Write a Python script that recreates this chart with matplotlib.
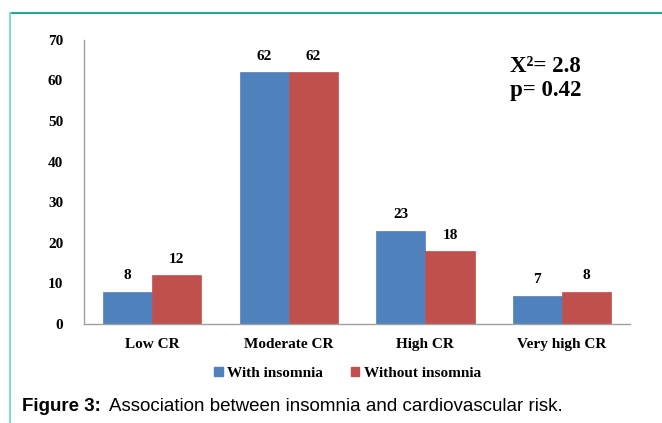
import numpy as np
import matplotlib.pyplot as plt
from matplotlib.lines import Line2D
from matplotlib.patches import Patch

categories = ["Low CR", "Moderate CR", "High CR", "Very high CR"]
with_insomnia = [8, 62, 23, 7]
without_insomnia = [12, 62, 18, 8]
series_names = ["With insomnia", "Without insomnia"]
colors = ["#4f81bd", "#c0504d"]
yticks = [0, 10, 20, 30, 40, 50, 60, 70]

serif = "Liberation Serif"

fig = plt.figure(figsize=(6.62, 4.23), dpi=100)
ax = fig.add_axes([0.127, 0.234, 0.825, 0.672])

x = np.arange(len(categories))
w = 0.36
for vals, off, col in [(with_insomnia, -w / 2, colors[0]), (without_insomnia, w / 2, colors[1])]:
    bars = ax.bar(x + off, vals, width=w, color=col, edgecolor=col, linewidth=0.5)
    for b, v in zip(bars, vals):
        ax.text(b.get_x() + b.get_width() / 2, v + 2.3, str(v), ha="center", va="bottom",
                fontsize=11, fontweight="bold", family=serif)

ax.set_xlim(-0.5, len(categories) - 0.5)
ax.set_ylim(0, 70)
ax.set_yticks(yticks)
ax.set_yticklabels([str(t) for t in yticks], fontsize=11, fontweight="bold", family=serif)
ax.set_xticks(x)
ax.set_xticklabels(categories, fontsize=11, fontweight="bold", family=serif)
ax.tick_params(axis="both", length=0)
ax.tick_params(axis="y", pad=15)
ax.tick_params(axis="x", pad=10)
for s in ["top", "right"]:
    ax.spines[s].set_visible(False)
for s in ["left", "bottom"]:
    ax.spines[s].set_color("#a0a0a0")
    ax.spines[s].set_linewidth(1.0)

ax.text(0.78, 0.907, "X²= 2.8", transform=ax.transAxes, fontsize=16.5, fontweight="bold",
        family=serif, va="center")
ax.text(0.78, 0.82, "p= 0.42", transform=ax.transAxes, fontsize=16.5, fontweight="bold",
        family=serif, va="center")

handles = [Patch(facecolor=c, edgecolor=c) for c in colors]
fig.legend(handles, series_names, loc="center", bbox_to_anchor=(0.525, 0.118), ncol=2,
           frameon=False, handlelength=0.55, handleheight=0.55, handletextpad=0.3,
           columnspacing=1.8, prop={"family": serif, "weight": "bold", "size": 11})

# caption
fig.text(0.033, 0.038, "Figure 3:", fontsize=13.5, fontweight="bold", family="Liberation Sans",
         va="center")
fig.text(0.164, 0.038, "Association between insomnia and cardiovascular risk.", fontsize=13.5,
         family="Liberation Sans", va="center")

# frame lines
fig.add_artist(Line2D([0.0151, 1.0], [1 - 13.5 / 423, 1 - 13.5 / 423], color="#2aa88f", lw=1.5,
                      transform=fig.transFigure))
fig.add_artist(Line2D([0.0151, 0.0151], [0, 1 - 13.5 / 423], color="#86dccb", lw=1.5,
                      transform=fig.transFigure))

fig.savefig("out.png", dpi=100)
